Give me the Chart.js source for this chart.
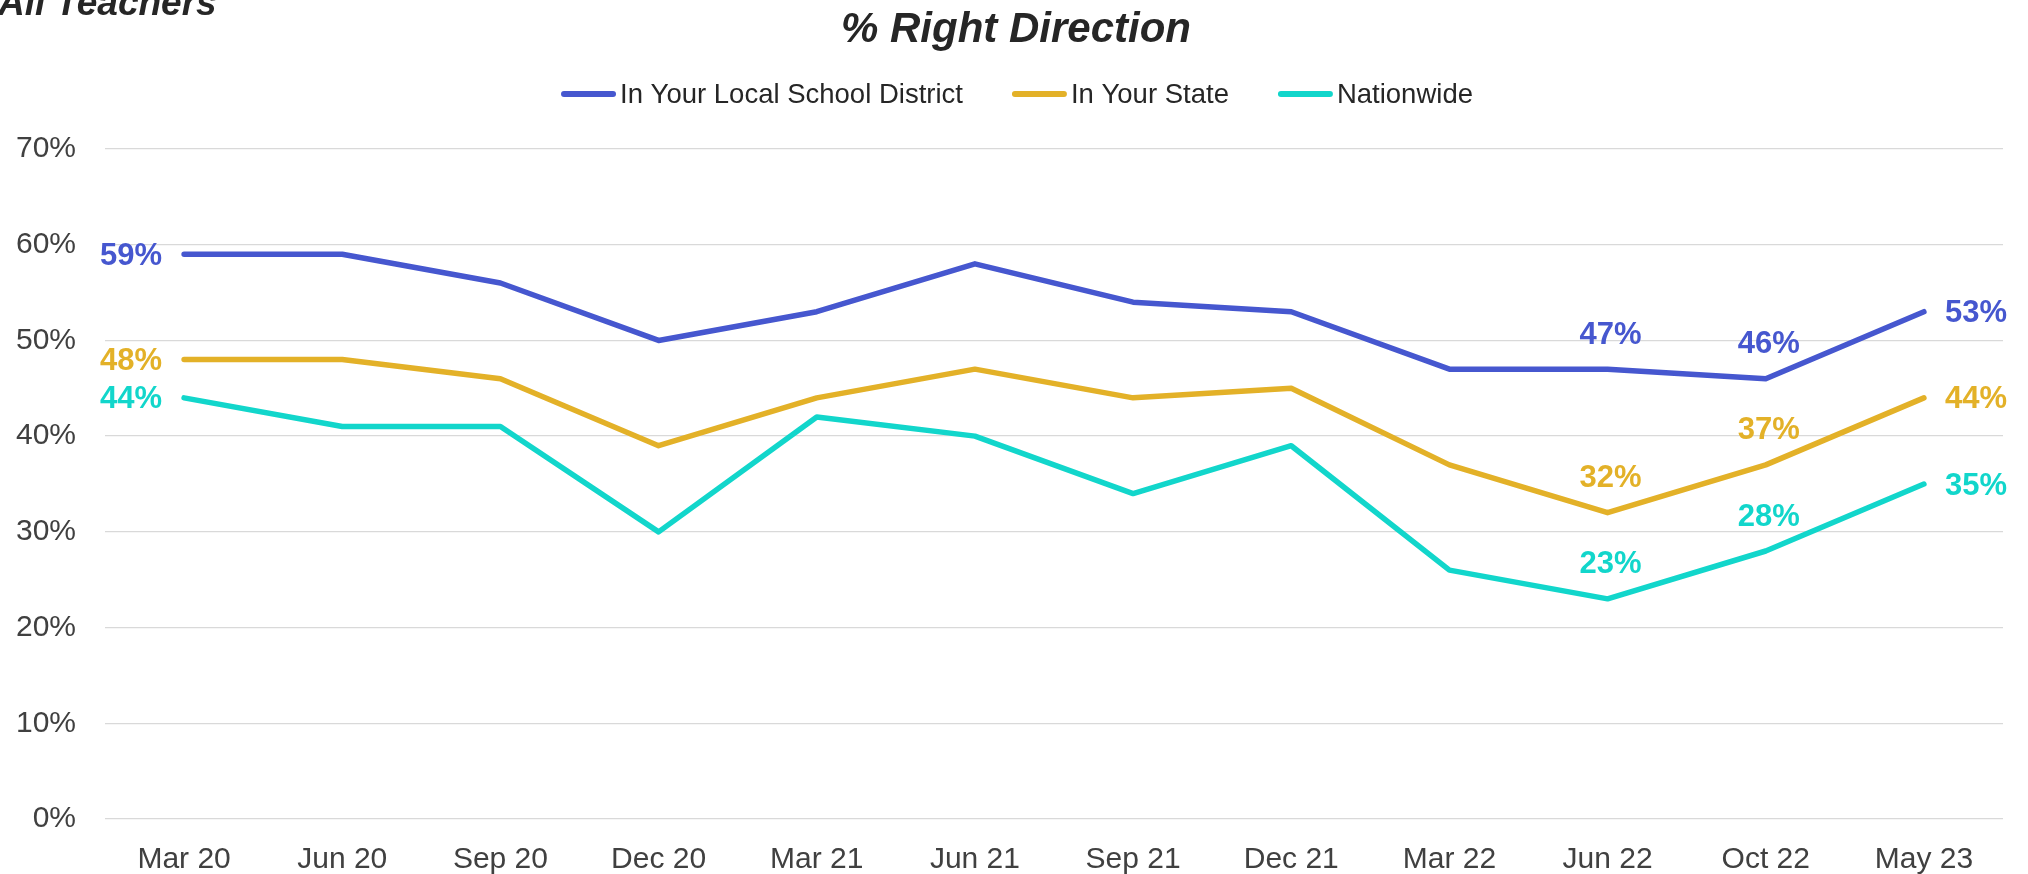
<!DOCTYPE html>
<html>
<head>
<meta charset="utf-8">
<script src="https://cdn.jsdelivr.net/npm/chart.js@4.4.1/dist/chart.umd.min.js"></script>
<style>
html,body{margin:0;padding:0;background:#fff;}
#wrap{width:2028px;height:874px;position:relative;}
</style>
</head>
<body>
<div id="wrap"><canvas id="c" width="2028" height="874"></canvas></div>
<script>
const categories = ["Mar 20","Jun 20","Sep 20","Dec 20","Mar 21","Jun 21","Sep 21","Dec 21","Mar 22","Jun 22","Oct 22","May 23"];
const localDistrict = [59,59,56,50,53,58,54,53,47,47,46,53];
const yourState     = [48,48,46,39,44,47,44,45,37,32,37,44];
const nationwide    = [44,41,41,30,42,40,34,39,26,23,28,35];
const seriesNames = ["In Your Local School District","In Your State","Nationwide"];
const seriesColors = ["#4657CF","#E3B128","#12D6CB"];
const yTicks = [0,10,20,30,40,50,60,70];
const labelledIndexes = [0,9,10,11];
const chartTitle = "% Right Direction";
const cornerTitle = "All Teachers";

const FONT = "'Liberation Sans', Arial, sans-serif";

const decorPlugin = {
  id: 'decor',
  afterDraw(chart) {
    const ctx = chart.ctx;
    ctx.save();
    // corner title
    ctx.fillStyle = '#262626';
    ctx.font = "italic bold 37px " + FONT;
    ctx.textAlign = 'left';
    ctx.textBaseline = 'alphabetic';
    ctx.fillText(cornerTitle, -2, 15);
    // main title
    ctx.font = "italic bold 42px " + FONT;
    ctx.textAlign = 'center';
    ctx.fillText(chartTitle, 1016, 42);
    // legend
    ctx.font = "27.5px " + FONT;
    const boxW = 55, boxGap = 4, itemGap = 49;
    const ds = chart.data.datasets;
    const widths = ds.map(d => ctx.measureText(d.label).width);
    let total = 0;
    widths.forEach((w, i) => { total += boxW + boxGap + w + (i < widths.length - 1 ? itemGap : 0); });
    let x = 1017 - total / 2;
    const ly = 94;
    ds.forEach((d, i) => {
      ctx.strokeStyle = d.borderColor;
      ctx.lineWidth = 6;
      ctx.lineCap = 'round';
      ctx.beginPath();
      ctx.moveTo(x + 3, ly);
      ctx.lineTo(x + boxW - 3, ly);
      ctx.stroke();
      ctx.fillStyle = '#262626';
      ctx.textAlign = 'left';
      ctx.textBaseline = 'middle';
      ctx.fillText(d.label, x + boxW + boxGap, ly + 1);
      x += boxW + boxGap + widths[i] + itemGap;
    });
    // data labels
    ctx.font = "bold 31px " + FONT;
    ds.forEach((d, di) => {
      const meta = chart.getDatasetMeta(di);
      labelledIndexes.forEach(idx => {
        const pt = meta.data[idx];
        const txt = d.data[idx] + '%';
        ctx.fillStyle = d.borderColor;
        ctx.textBaseline = 'middle';
        if (idx === 0) {
          ctx.textAlign = 'right';
          ctx.fillText(txt, pt.x - 22, pt.y + 2);
        } else if (idx === categories.length - 1) {
          ctx.textAlign = 'left';
          ctx.fillText(txt, pt.x + 21, pt.y + 2);
        } else {
          ctx.textAlign = 'center';
          ctx.fillText(txt, pt.x + 3, pt.y - 34);
        }
      });
    });
    ctx.restore();
  }
};

const mk = (label, data, color) => ({
  label, data,
  borderColor: color,
  backgroundColor: color,
  borderWidth: 5.5,
  pointRadius: 0,
  pointHoverRadius: 0,
  tension: 0,
  borderCapStyle: 'round',
  borderJoinStyle: 'round',
  fill: false
});

new Chart(document.getElementById('c'), {
  type: 'line',
  data: {
    labels: categories,
    datasets: [
      mk(seriesNames[0], localDistrict, seriesColors[0]),
      mk(seriesNames[1], yourState, seriesColors[1]),
      mk(seriesNames[2], nationwide, seriesColors[2])
    ]
  },
  options: {
    responsive: false,
    devicePixelRatio: 1,
    animation: false,
    layout: { padding: { top: 149, right: 25, bottom: 0, left: 0 } },
    plugins: { legend: { display: false }, title: { display: false }, tooltip: { enabled: false } },
    scales: {
      x: {
        offset: true,
        grid: { display: false, drawTicks: false },
        border: { display: false },
        ticks: { color: '#404040', font: { family: FONT, size: 30 }, padding: 23, maxRotation: 0, autoSkip: false },
        afterFit(s) { s.height = 55; }
      },
      y: {
        min: yTicks[0], max: yTicks[yTicks.length - 1],
        afterBuildTicks(s) { s.ticks = yTicks.map(v => ({ value: v })); },
        grid: { color: '#D9D9D9', lineWidth: 1.3, drawTicks: false },
        border: { display: false },
        ticks: { color: '#404040', font: { family: FONT, size: 30 }, padding: 29, callback: v => v + '%' },
        afterFit(s) { s.width = 105; }
      }
    }
  },
  plugins: [decorPlugin]
});
</script>
</body>
</html>
